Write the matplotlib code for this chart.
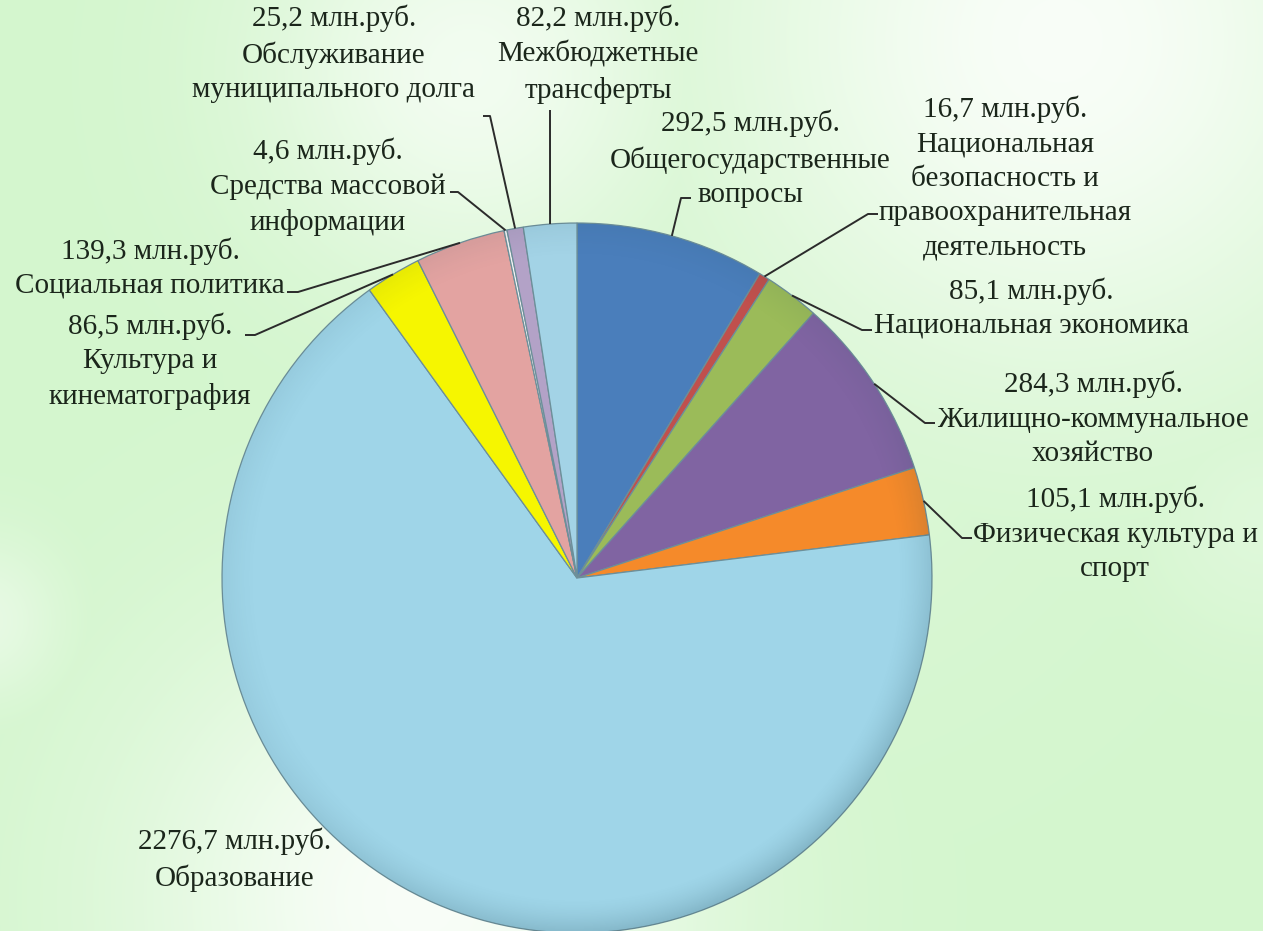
import numpy as np
import matplotlib
matplotlib.use('Agg')
import matplotlib.pyplot as plt
from matplotlib.patches import Circle

categories = ['Общегосударственные вопросы',
              'Национальная безопасность и правоохранительная деятельность',
              'Национальная экономика',
              'Жилищно-коммунальное хозяйство',
              'Физическая культура и спорт',
              'Образование',
              'Культура и кинематография',
              'Социальная политика',
              'Средства массовой информации',
              'Обслуживание муниципального долга',
              'Межбюджетные трансферты']
values = [292.5, 16.7, 85.1, 284.3, 105.1, 2276.7, 86.5, 139.3, 4.6, 25.2, 82.2]
label_texts = ['292,5 млн.руб.\nОбщегосударственные\nвопросы',
               '16,7 млн.руб.\nНациональная\nбезопасность и\nправоохранительная\nдеятельность',
               '85,1 млн.руб.\nНациональная экономика',
               '284,3 млн.руб.\nЖилищно-коммунальное\nхозяйство',
               '105,1 млн.руб.\nФизическая культура и\nспорт',
               '2276,7 млн.руб.\nОбразование',
               '86,5 млн.руб.\nКультура и\nкинематография',
               '139,3 млн.руб.\nСоциальная политика',
               '4,6 млн.руб.\nСредства массовой\nинформации',
               '25,2 млн.руб.\nОбслуживание\nмуниципального долга',
               '82,2 млн.руб.\nМежбюджетные\nтрансферты']
colors = ['#4a7ebb', '#c0504d', '#9bbb59', '#8064a2', '#f58a2a', '#9fd5e8',
          '#f6f600', '#e3a3a1', '#f4f4f4', '#b3a2c7', '#a3d3e6']

# label block centres (pixels) and leader end points (pixels)
label_pos = [(750, 159), (1005, 178), (1031, 308), (1093, 419), (1115, 534),
             (235, 860), (150, 361), (150, 268), (328, 187), (334, 54), (598, 54)]
leader_ends = [[(681, 198), (691, 198)],
               [(868, 214), (878, 214)],
               [(862, 330), (872, 330)],
               [(925, 423), (935, 423)],
               [(962, 538), (972, 538)],
               None,
               [(255, 335), (245, 335)],
               [(298, 292), (287, 292)],
               [(458, 192), (450, 192)],
               [(490, 116), (483, 116)],
               [(550, 110)]]

W, H = 1263, 931
CX, CY, R = 577, 578, 355

fig = plt.figure(figsize=(W / 100, H / 100), dpi=100)
ax = fig.add_axes([0, 0, 1, 1])

# background gradient
yy, xx = np.mgrid[0:H, 0:W]
base = np.array([212, 246, 206]) / 255.0
white = np.zeros((H, W))
for (bx, by, s, a) in [(1060, 40, 240, 0.85), (470, 70, 150, 0.7), (420, 900, 200, 0.85),
                       (-20, 620, 60, 0.45), (1263, 520, 90, 0.25), (760, 330, 260, 0.2)]:
    white = np.maximum(white, a * np.exp(-(((xx - bx) ** 2 + (yy - by) ** 2) / (2 * s ** 2))))
bg = base[None, None, :] * (1 - white[..., None]) + white[..., None] * 1.0
ax.imshow(bg, extent=(0, W, H, 0), zorder=0, interpolation='bilinear')

wedges, _ = ax.pie(values, colors=colors, startangle=-90, counterclock=True,
                   center=(CX, CY), radius=R,
                   wedgeprops=dict(edgecolor='#6d8f99', linewidth=0.9))
for w in wedges:
    w.set_zorder(2)

# subtle rim shading for a bevelled look
rr = np.sqrt((xx - CX) ** 2 + (yy - CY) ** 2) / R
dirw = np.clip(((xx - CX) * 0.5 + (yy - CY) * 0.85) / (R + 1e-9), 0, 1)
rim = np.clip((rr - 0.9) / 0.1, 0, 1) ** 1.5
shade = np.zeros((H, W, 4))
shade[..., :3] = np.array([0.1, 0.25, 0.3])
shade[..., 3] = 0.22 * rim * (0.3 + 0.7 * dirw)
im = ax.imshow(shade, extent=(0, W, H, 0), zorder=3, interpolation='bilinear')
im.set_clip_path(Circle((CX, CY), R, transform=ax.transData))

# leader lines and labels
for w, txt, pos, ends in zip(wedges, label_texts, label_pos, leader_ends):
    ax.text(pos[0], pos[1], txt, ha='center', va='center', fontsize=21,
            family='Liberation Serif', color='#1b261b', linespacing=1.42, zorder=5)
    if ends is None:
        continue
    mid = np.deg2rad((w.theta1 + w.theta2) / 2)
    px, py = CX + R * np.cos(mid), CY + R * np.sin(mid)
    xs = [px] + [e[0] for e in ends]
    ys = [py] + [e[1] for e in ends]
    ax.plot(xs, ys, color='#2b2b2b', lw=1.4, zorder=4, solid_capstyle='butt')

ax.set_aspect('equal')
ax.set_xlim(0, W)
ax.set_ylim(H, 0)
ax.set_axis_off()
fig.savefig('out.png', dpi=100)
